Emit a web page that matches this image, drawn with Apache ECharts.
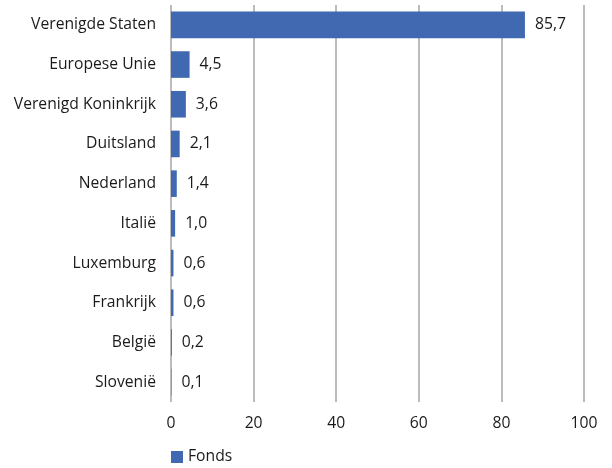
<!DOCTYPE html>
<html>
<head>
<meta charset="utf-8">
<script src="https://cdn.jsdelivr.net/npm/echarts@6/dist/echarts.min.js"></script>
<style>
  html, body { margin: 0; padding: 0; background: #fff; }
  #chart { width: 612px; height: 468px; }
</style>
</head>
<body>
<div id="chart"></div>
<script>
// Landen, van boven naar beneden
const categories = [
  'Verenigde Staten', 'Europese Unie', 'Verenigd Koninkrijk', 'Duitsland',
  'Nederland', 'Italië', 'Luxemburg', 'Frankrijk', 'België', 'Slovenië'
];
// Aandeel van het fonds per land (%)
const fondsValues = [85.7, 4.5, 3.6, 2.1, 1.4, 1.0, 0.6, 0.6, 0.2, 0.1];
const xTicks = [0, 20, 40, 60, 80, 100];

const FONT = '"Open Sans", "Noto Sans", sans-serif';
const TEXT = '#1a1a1a';
const SIZE = 15.7;

const chart = echarts.init(document.getElementById('chart'), null, { renderer: 'canvas' });

chart.setOption({
  animation: false,
  textStyle: { fontFamily: FONT },
  grid: { left: 171, right: 28, top: 5, bottom: 66, containLabel: false },
  legend: {
    data: ['Fonds'],
    left: 166,
    top: 449,
    padding: [0, 5],
    itemWidth: 12,
    itemHeight: 12,
    itemGap: 8,
    icon: 'rect',
    textStyle: { fontFamily: FONT, fontSize: SIZE, color: TEXT }
  },
  xAxis: {
    type: 'value',
    min: xTicks[0],
    max: xTicks[xTicks.length - 1],
    interval: 20,
    axisLine: { show: false },
    axisTick: { show: false },
    axisLabel: { fontFamily: FONT, fontSize: SIZE, color: TEXT, margin: 14 },
    splitLine: { show: true, lineStyle: { color: '#a6a6a6', width: 1.5 } }
  },
  yAxis: {
    type: 'category',
    data: categories,
    inverse: true,
    axisLine: { show: false },
    axisTick: { show: false },
    axisLabel: { fontFamily: FONT, fontSize: SIZE, color: TEXT, margin: 15 }
  },
  series: [{
    name: 'Fonds',
    type: 'bar',
    data: fondsValues,
    barCategoryGap: '33%',
    itemStyle: { color: '#4169B1' },
    label: {
      show: true,
      position: 'right',
      distance: 10,
      fontFamily: FONT,
      fontSize: SIZE,
      color: TEXT,
      formatter: p => p.value.toFixed(1).replace('.', ',')
    }
  }]
});
</script>
</body>
</html>
